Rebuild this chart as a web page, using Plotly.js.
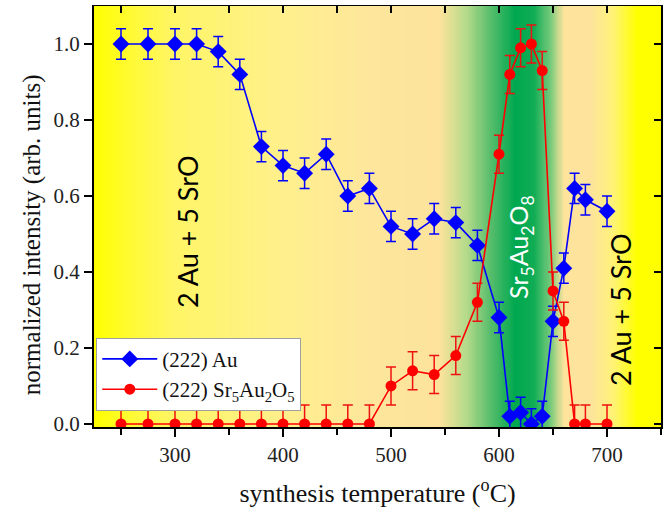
<!DOCTYPE html>
<html><head><meta charset="utf-8">
<script src="https://cdn.plot.ly/plotly-3.0.1.min.js"></script>
<style>body{margin:0;background:#fff}#chart{width:666px;height:511px}</style>
</head><body><div id="chart"></div>
<script>
// Data
const temps = [250,275,300,320,340,360,380,400,420,440,460,480,500,520,540,560,580,600,610,620,630,640,650,660,670,680,700];
const auValues = [1.00,1.00,1.00,1.00,0.98,0.92,0.73,0.68,0.66,0.71,0.60,0.62,0.52,0.50,0.54,0.53,0.47,0.28,0.02,0.03,0.00,0.02,0.27,0.41,0.62,0.59,0.56];
const srValues = [0,0,0,0,0,0,0,0,0,0,0,0,0.10,0.14,0.13,0.18,0.32,0.71,0.92,0.99,1.00,0.93,0.35,0.27,0,0,0];
const auError = 0.04;
const srError = 0.05;
const seriesNames = ['(222) Au', '(222) Sr<sub>5</sub>Au<sub>2</sub>O<sub>5</sub>'];
const xTitle = 'synthesis temperature (<sup>o</sup>C)';
const yTitle = 'normalized intensity (arb. units)';

// background phase gradient (temperature -> colour)
const bgStops = [225,262,300,400,480,545,570,595,615,632,648,660,685,705,728,750];
const bgColors = ['#ffff00','#fffa38','#fff566','#fff08c','#fee69c','#fde39c','#b4da8a','#4cba68','#00a84f','#0fac54','#7acb7c','#fde39c','#fde39c','#fff27a','#ffff00','#ffff00'];

const X0 = 225, X1 = 750;
const xEdges = [], zRow = [];
for (let v = X0; v <= X1; v += 1) xEdges.push(v);
for (let i = 0; i < xEdges.length - 1; i++) zRow.push(xEdges[i] + 0.5);
const colorscale = bgStops.map((s, i) => [(s - X0) / (X1 - X0), bgColors[i]]);

const serif = 'Liberation Serif';
const traces = [
  {type:'heatmap', x:xEdges, y:[-0.1,1.2], z:[zRow], zmin:X0, zmax:X1, colorscale:colorscale,
   showscale:false, hoverinfo:'skip', showlegend:false},
  {type:'scatter', mode:'lines+markers', name:seriesNames[0], x:temps, y:auValues,
   line:{color:'#0000ff', width:1.6}, marker:{symbol:'diamond', size:13, color:'#0000ff'},
   error_y:{type:'constant', value:auError, color:'#0000ff', thickness:1.5, width:5}},
  {type:'scatter', mode:'lines+markers', name:seriesNames[1], x:temps, y:srValues,
   line:{color:'#ff0000', width:1.6}, marker:{symbol:'circle', size:11, color:'#ff0000'},
   error_y:{type:'constant', value:srError, color:'#ee1111', thickness:1.5, width:5}}
];

const layout = {
  width:666, height:511,
  margin:{l:94, r:5, t:6, b:84},
  paper_bgcolor:'#ffffff', plot_bgcolor:'#ffffff',
  showlegend:true,
  legend:{x:0.004, y:0.212, xanchor:'left', yanchor:'top', bgcolor:'#ffffff',
          bordercolor:'#a0a0a0', borderwidth:1, font:{family:serif, size:21, color:'#111'},
          tracegroupgap:0, itemwidth:55},
  xaxis:{range:[X0, X1], dtick:100, tick0:0, ticks:'outside', ticklen:8, tickwidth:1.5, tickcolor:'#000',
         minor:{dtick:50, tick0:0, ticks:'outside', ticklen:6, tickwidth:1.5, tickcolor:'#000'},
         showline:true, linecolor:'#000', linewidth:2, showgrid:false, zeroline:false,
         tickfont:{family:serif, size:21, color:'#222'},
         title:{text:xTitle, font:{family:serif, size:26, color:'#111'}, standoff:18}},
  yaxis:{range:[-0.008, 1.1], dtick:0.2, tick0:0, tickformat:'.1f', ticks:'outside', ticklen:8, tickwidth:1.5, tickcolor:'#000',
         showline:true, linecolor:'#000', linewidth:2, showgrid:false, zeroline:false,
         tickfont:{family:serif, size:21, color:'#222'}},
  xaxis2:{overlaying:'x', side:'top', anchor:'y', range:[X0, X1], dtick:50, tick0:0, ticks:'inside', ticklen:7,
          tickwidth:1.5, tickcolor:'#000', showticklabels:false, showline:true, linecolor:'#000', linewidth:1.5,
          showgrid:false, zeroline:false},
  yaxis2:{overlaying:'y', side:'right', anchor:'x', range:[-0.008, 1.1], dtick:0.2, tick0:0, ticks:'inside', ticklen:7,
          tickwidth:1.5, tickcolor:'#000', showticklabels:false, showline:true, linecolor:'#000', linewidth:1.5,
          showgrid:false, zeroline:false},
  annotations:[
    {x:-0.109, y:0.456, xref:'paper', yref:'paper', xanchor:'center', yanchor:'middle', text:yTitle, showarrow:false, textangle:-90,
     font:{family:serif, size:25, color:'#111'}},
    {x:312, y:0.508, xref:'x', yref:'y', text:'2 Au + 5 SrO', showarrow:false, textangle:-90,
     font:{family:'Lato', size:27, color:'#000'}},
    {x:713, y:0.300, xref:'x', yref:'y', text:'2 Au + 5 SrO', showarrow:false, textangle:-90,
     font:{family:'Lato', size:27, color:'#000'}},
    {x:620, y:0.465, xref:'x', yref:'y', text:'Sr<sub>5</sub>Au<sub>2</sub>O<sub>8</sub>', showarrow:false, textangle:-90,
     font:{family:'Lato', size:25, color:'#ffffff'}}
  ]
};
// invisible helper trace so the mirrored frame axes (top/right ticks) are drawn
traces.push({type:'scatter', x:[X0], y:[0], xaxis:'x2', yaxis:'y2', mode:'markers', marker:{opacity:0}, showlegend:false, hoverinfo:'skip'});
Plotly.newPlot('chart', traces, layout, {displayModeBar:false, staticPlot:true});
</script></body></html>
